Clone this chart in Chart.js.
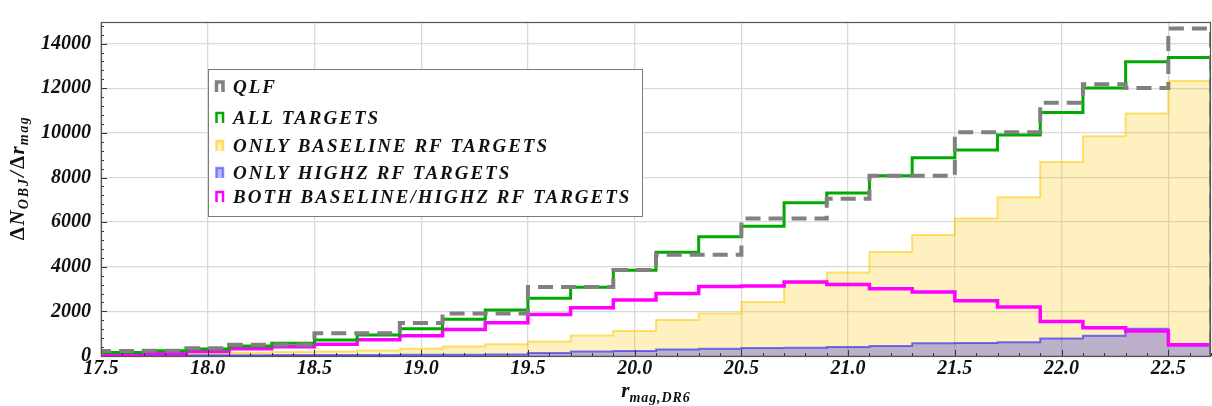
<!DOCTYPE html>
<html>
<head>
<meta charset="utf-8">
<script src="https://cdn.jsdelivr.net/npm/chart.js@4.4.0/dist/chart.umd.min.js"></script>
<style>
  html, body { margin: 0; padding: 0; background: #ffffff; }
  #wrap { width: 1212px; height: 406px; position: relative; }
</style>
</head>
<body>
<div id="wrap"><canvas id="c" width="1212" height="406"></canvas></div>
<script>
// Magnitude bin edges (r_mag, DR6), 0.2 mag wide
const binEdges = [17.5, 17.7, 17.9, 18.1, 18.3, 18.5, 18.7, 18.9, 19.1, 19.3, 19.5, 19.7, 19.9,
                  20.1, 20.3, 20.5, 20.7, 20.9, 21.1, 21.3, 21.5, 21.7, 21.9, 22.1, 22.3, 22.5, 22.7];

// Counts per bin, one value per bin
const qlf = [220, 230, 350, 500, 500, 1020, 1020, 1480, 1900, 1900, 3090, 3090, 3850,
             4540, 4540, 6160, 6160, 7050, 8080, 8080, 10030, 10030, 11350, 12180, 12010, 14680];
const allTargets = [160, 235, 310, 450, 570, 720, 940, 1220, 1650, 2065, 2590, 3085, 3845,
                    4645, 5345, 5820, 6865, 7310, 8075, 8890, 9235, 9905, 10910, 12015, 13190, 13375];
const onlyBaseline = [50, 80, 110, 150, 180, 200, 250, 325, 425, 530, 650, 920, 1118,
                      1610, 1900, 2420, 3270, 3742, 4660, 5420, 6165, 7110, 8690, 9850, 10870, 12330];
const onlyHighz = [20, 25, 30, 35, 40, 45, 50, 55, 60, 65, 135, 200, 229,
                   287, 330, 358, 373, 401, 444, 573, 588, 616, 788, 903, 1219, 473];
const bothBaselineHighz = [80, 115, 200, 320, 420, 530, 730, 903, 1185, 1490, 1860, 2160, 2510,
                           2800, 3120, 3140, 3320, 3200, 3010, 2865, 2475, 2195, 1550, 1265, 1120, 500];

const seriesLabels = ['QLF', 'ALL TARGETS', 'ONLY BASELINE RF TARGETS',
                      'ONLY HIGHZ RF TARGETS', 'BOTH BASELINE/HIGHZ RF TARGETS'];

// Axis ticks
const xTicks = [17.5, 18.0, 18.5, 19.0, 19.5, 20.0, 20.5, 21.0, 21.5, 22.0, 22.5];
const yTicks = [0, 2000, 4000, 6000, 8000, 10000, 12000, 14000];
const xRange = [17.5, 22.7];
const yRange = [0, 14970];

// Turn per-bin counts into a step outline that starts and ends on zero
function histogramOutline(values) {
  const pts = [{ x: binEdges[0], y: 0 }];
  values.forEach((v, i) => pts.push({ x: binEdges[i], y: v }));
  const last = binEdges[binEdges.length - 1];
  pts.push({ x: last, y: values[values.length - 1] });
  pts.push({ x: last, y: 0 });
  return pts;
}

const SERIF = "'Liberation Serif', 'DejaVu Serif', serif";

const styles = [
  { border: '#808080', width: 4, dash: [15, 8], fill: false, order: 1, marker: '#808080' },
  { border: '#00aa00', width: 3, dash: [], fill: false, order: 2, marker: '#00aa00' },
  { border: 'rgba(255,200,0,0.55)', width: 2, dash: [], fill: 'rgba(255,200,0,0.25)', order: 5, marker: 'rgba(255,200,0,0.6)' },
  { border: 'rgba(30,30,255,0.6)', width: 2, dash: [], fill: 'rgba(10,0,230,0.27)', order: 4, marker: 'rgba(60,60,255,0.6)' },
  { border: '#ff00ff', width: 3.5, dash: [], fill: false, order: 3, marker: '#ff00ff' }
];
const seriesValues = [qlf, allTargets, onlyBaseline, onlyHighz, bothBaselineHighz];

const datasets = seriesValues.map((vals, i) => ({
  label: seriesLabels[i],
  data: histogramOutline(vals),
  stepped: 'before',
  borderColor: styles[i].border,
  borderWidth: styles[i].width,
  borderDash: styles[i].dash,
  borderCapStyle: 'butt',
  borderJoinStyle: 'miter',
  backgroundColor: styles[i].fill || 'transparent',
  fill: styles[i].fill ? 'origin' : false,
  pointRadius: 0,
  pointHoverRadius: 0,
  order: styles[i].order
}));

// Frame around the plot plus small inward tick marks
const framePlugin = {
  id: 'frame',
  afterDatasetsDraw(chart) {
    const { ctx, chartArea: a, scales: { x, y } } = chart;
    ctx.save();
    ctx.strokeStyle = '#333';
    ctx.lineWidth = 1;
    ctx.beginPath();
    for (let k = 176; k <= 227; k++) {
      const v = k / 10;
      const px = Math.round(x.getPixelForValue(v)) + 0.5;
      const len = (k % 5 === 0) ? 6 : 3;
      ctx.moveTo(px, a.bottom);
      ctx.lineTo(px, a.bottom - len);
    }
    for (let v = 400; v <= 14800; v += 400) {
      const py = Math.round(y.getPixelForValue(v)) + 0.5;
      const len = (v % 2000 === 0) ? 6 : 3;
      ctx.moveTo(a.left, py);
      ctx.lineTo(a.left + len, py);
    }
    ctx.stroke();
    ctx.strokeStyle = '#555';
    ctx.lineWidth = 1.2;
    ctx.strokeRect(a.left + 0.5, a.top + 0.5, a.right - a.left - 1, a.bottom - a.top);
    ctx.restore();
  }
};

// Draw a run of text pieces (with optional baseline shifts) along the current x direction
function drawPieces(ctx, pieces, startX, baseY) {
  let cx = startX;
  pieces.forEach(p => {
    ctx.font = p.font;
    ctx.letterSpacing = (p.spacing || 0) + 'px';
    ctx.fillText(p.text, cx, baseY + (p.dy || 0));
    cx += ctx.measureText(p.text).width;
  });
  return cx - startX;
}
function measurePieces(ctx, pieces) {
  let w = 0;
  pieces.forEach(p => {
    ctx.font = p.font;
    ctx.letterSpacing = (p.spacing || 0) + 'px';
    w += ctx.measureText(p.text).width;
  });
  return w;
}

const titlePlugin = {
  id: 'axisTitles',
  afterDraw(chart) {
    const { ctx, chartArea: a } = chart;
    ctx.save();
    ctx.fillStyle = '#111';
    ctx.textBaseline = 'alphabetic';
    ctx.textAlign = 'left';

    // x title: r_{mag,DR6}
    const xPieces = [
      { text: 'r', font: `italic bold 21px ${SERIF}`, spacing: 0 },
      { text: 'mag,DR6', font: `italic bold 14px ${SERIF}`, spacing: 0.9, dy: 5 }
    ];
    const xw = measurePieces(ctx, xPieces);
    drawPieces(ctx, xPieces, (a.left + a.right) / 2 - xw / 2, 397);

    // y title: ΔN_{OBJ}/Δr_{mag}
    const yPieces = [
      { text: 'Δ', font: `bold 21px ${SERIF}`, spacing: 1.5 },
      { text: 'N', font: `italic bold 21px ${SERIF}`, spacing: 1 },
      { text: 'OBJ', font: `italic bold 14px ${SERIF}`, spacing: 2, dy: 4 },
      { text: '/', font: `italic bold 21px ${SERIF}`, spacing: 2 },
      { text: 'Δ', font: `bold 21px ${SERIF}`, spacing: 1.5 },
      { text: 'r', font: `italic bold 21px ${SERIF}`, spacing: 1 },
      { text: 'mag', font: `italic bold 14px ${SERIF}`, spacing: 1.5, dy: 4 }
    ];
    const yw = measurePieces(ctx, yPieces);
    ctx.translate(24, 178);
    ctx.rotate(-Math.PI / 2);
    drawPieces(ctx, yPieces, -yw / 2, 0);
    ctx.restore();
  }
};

// Boxed legend inside the plot, with small step-outline markers
const legendPlugin = {
  id: 'boxLegend',
  afterDraw(chart) {
    const { ctx } = chart;
    const box = { x: 208, y: 69, w: 434, h: 147 };
    const rows = [87, 118, 146, 173, 197];
    ctx.save();
    ctx.fillStyle = '#ffffff';
    ctx.fillRect(box.x, box.y, box.w, box.h);
    ctx.strokeStyle = '#7a7a7a';
    ctx.lineWidth = 1;
    ctx.strokeRect(box.x + 0.5, box.y + 0.5, box.w, box.h);

    chart.data.datasets.forEach((ds, i) => {
      const cy = rows[i];
      const st = styles[i];
      const x0 = 216.5, x1 = 223, top = cy - 5, bot = cy + 5;
      if (st.fill) {
        ctx.fillStyle = st.fill;
        ctx.fillRect(x0, top, x1 - x0, bot - top);
      }
      ctx.strokeStyle = st.marker;
      ctx.lineWidth = i === 0 ? 3.5 : 2.5;
      ctx.setLineDash([]);
      ctx.beginPath();
      ctx.moveTo(x0, bot);
      ctx.lineTo(x0, top);
      ctx.lineTo(x1, top);
      ctx.lineTo(x1, bot);
      ctx.stroke();

      ctx.fillStyle = '#111';
      ctx.font = `italic bold 19px ${SERIF}`;
      ctx.letterSpacing = '2px';
      ctx.textBaseline = 'middle';
      ctx.textAlign = 'left';
      ctx.fillText(ds.label, 233, cy + 1);
    });
    ctx.restore();
  }
};

const tickFont = { family: SERIF, style: 'italic', weight: 'bold', size: 20 };

new Chart(document.getElementById('c'), {
  type: 'line',
  data: { datasets },
  options: {
    responsive: false,
    animation: false,
    devicePixelRatio: 1,
    layout: { padding: { top: 8, right: 1, left: 0, bottom: 0 } },
    plugins: { legend: { display: false }, tooltip: { enabled: false } },
    scales: {
      x: {
        type: 'linear',
        min: xRange[0],
        max: xRange[1],
        afterBuildTicks(scale) { scale.ticks = xTicks.map(v => ({ value: v })); },
        afterFit(scale) { scale.height = 50; },
        ticks: {
          font: tickFont,
          color: '#111',
          padding: 1,
          maxRotation: 0,
          autoSkip: false,
          callback: v => v.toFixed(1)
        },
        grid: { color: '#d9d9d9', lineWidth: 1.3, drawTicks: false },
        border: { display: false }
      },
      y: {
        type: 'linear',
        min: yRange[0],
        max: yRange[1],
        afterBuildTicks(scale) { scale.ticks = yTicks.map(v => ({ value: v })); },
        afterFit(scale) { scale.width = 101; },
        ticks: {
          font: tickFont,
          color: '#111',
          padding: 10,
          callback: v => String(v)
        },
        grid: { color: '#d9d9d9', lineWidth: 1.3, drawTicks: false },
        border: { display: false }
      }
    }
  },
  plugins: [framePlugin, titlePlugin, legendPlugin]
});
</script>
</body>
</html>
